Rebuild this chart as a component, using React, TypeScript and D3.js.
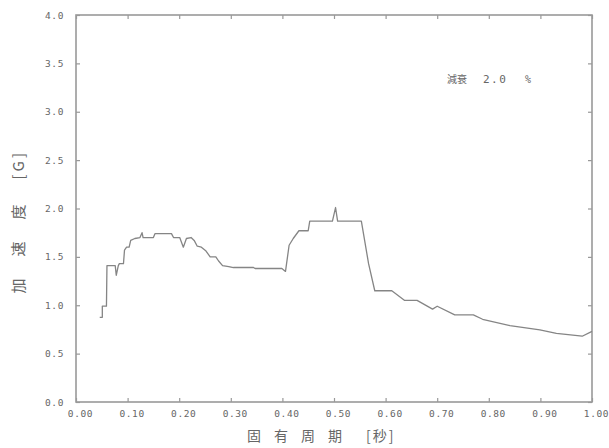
import {useEffect, useRef} from "react";
import * as d3 from "d3";

// 固有周期 [秒]
const periods = [
    0.046, 0.051, 0.051, 0.059, 0.060, 0.076, 0.078, 0.082, 0.084, 0.092,
    0.094, 0.098, 0.103, 0.106, 0.114, 0.124, 0.128, 0.130, 0.150, 0.153,
    0.185, 0.189, 0.201, 0.208, 0.214, 0.223, 0.229, 0.235, 0.243, 0.252,
    0.260, 0.271, 0.276, 0.284, 0.296, 0.305, 0.344, 0.347, 0.399, 0.406,
    0.413, 0.421, 0.432, 0.450, 0.453, 0.497, 0.503, 0.507, 0.553, 0.567,
    0.579, 0.612, 0.637, 0.661, 0.691, 0.700, 0.734, 0.770, 0.788, 0.841,
    0.899, 0.931, 0.981, 1.000
];
// 加速度 [G]
const accel = [
    0.875, 0.875, 0.99, 0.99, 1.41, 1.41, 1.31, 1.41, 1.43, 1.43,
    1.57, 1.60, 1.60, 1.67, 1.69, 1.70, 1.75, 1.70, 1.70, 1.74,
    1.74, 1.70, 1.70, 1.60, 1.69, 1.70, 1.67, 1.61, 1.60, 1.56,
    1.50, 1.50, 1.46, 1.41, 1.40, 1.39, 1.39, 1.38, 1.38, 1.35,
    1.62, 1.69, 1.77, 1.77, 1.87, 1.87, 2.01, 1.87, 1.87, 1.43,
    1.15, 1.15, 1.05, 1.05, 0.96, 0.99, 0.90, 0.90, 0.855, 0.79,
    0.745, 0.71, 0.68, 0.73
];
const xTicks = [0, 0.1, 0.2, 0.3, 0.4, 0.5, 0.6, 0.7, 0.8, 0.9, 1.0];
const yTicks = [0, 0.5, 1.0, 1.5, 2.0, 2.5, 3.0, 3.5, 4.0];

function App()
{
    const myNode = useRef<HTMLDivElement>(null);

    useEffect(() => {
        const width = 609;
        const height = 448;
        const left = 76, right = 592, top = 15, bottom = 402;
        const mono = "'DejaVu Sans Mono', monospace";
        const cjk = "'Noto Sans CJK JP', sans-serif";
        const axisColor = "#999";
        const textColor = "#666";

        d3.select(myNode.current).selectAll('*').remove();

        const svg = d3.select(myNode.current)
            .append('svg')
            .attr('width', width)
            .attr('height', height)
            .style('display', 'block')
            .style('background', '#fff');

        const xScale = d3.scaleLinear().domain([0, 1]).range([left, right]);
        const yScale = d3.scaleLinear().domain([0, 4]).range([bottom, top]);

        const styleAxis = (g: any) => {
            g.select('.domain').remove();
            g.selectAll('line').attr('stroke', axisColor).attr('stroke-width', 1.2);
            g.selectAll('text')
                .attr('fill', textColor)
                .style('font-family', mono)
                .style('font-size', '9.5px')
                .style('letter-spacing', '0.6px');
        };

        svg.append('g')
            .attr('transform', `translate(0,${bottom})`)
            .call(d3.axisBottom(xScale).tickValues(xTicks).tickSize(-4).tickPadding(8).tickFormat(d3.format('.2f')))
            .call(styleAxis)
            .call((g: any) => g.selectAll('text').attr('dx', 4));

        svg.append('g')
            .attr('transform', `translate(0,${top})`)
            .call(d3.axisTop(xScale).tickValues(xTicks).tickSize(-4).tickFormat(() => ''))
            .call(styleAxis);

        svg.append('g')
            .attr('transform', `translate(${left},0)`)
            .call(d3.axisLeft(yScale).tickValues(yTicks).tickSize(-4).tickPadding(12).tickFormat(d3.format('.1f')))
            .call(styleAxis);

        svg.append('g')
            .attr('transform', `translate(${right},0)`)
            .call(d3.axisRight(yScale).tickValues(yTicks).tickSize(-4).tickFormat(() => ''))
            .call(styleAxis);

        // frame
        svg.append('rect')
            .attr('x', left)
            .attr('y', top)
            .attr('width', right - left)
            .attr('height', bottom - top)
            .attr('fill', 'none')
            .attr('stroke', axisColor)
            .attr('stroke-width', 1.6);

        const points = periods.map((p, i) => [p, accel[i]] as [number, number]);
        const line = d3.line<[number, number]>()
            .x(d => xScale(d[0]))
            .y(d => yScale(d[1]));

        svg.append('path')
            .datum(points)
            .attr('d', line)
            .attr('fill', 'none')
            .attr('stroke', '#858585')
            .attr('stroke-width', 1.3)
            .attr('stroke-linejoin', 'round');

        // damping note
        const note = svg.append('g').attr('fill', textColor);
        note.append('text')
            .attr('x', 447).attr('y', 83)
            .style('font-family', cjk).style('font-size', '10px')
            .text('減衰');
        note.append('text')
            .attr('x', 483).attr('y', 83)
            .style('font-family', mono).style('font-size', '11px').style('letter-spacing', '1.5px')
            .text('2.0');
        note.append('text')
            .attr('x', 525).attr('y', 83)
            .style('font-family', mono).style('font-size', '10px')
            .text('%');

        // x title
        const cx = (left + right) / 2;
        const xt = svg.append('text')
            .attr('y', 441)
            .attr('fill', textColor)
            .style('font-family', cjk)
            .style('font-size', '14px');
        xt.append('tspan').attr('x', cx - 87).style('letter-spacing', '13px').text('固有周期');
        xt.append('tspan').attr('x', cx + 32).style('letter-spacing', '2px').text('[秒]');

        // y title
        const cy = (top + bottom) / 2;
        const yt = svg.append('text')
            .attr('transform', `translate(24,${cy + 85}) rotate(-90)`)
            .attr('fill', textColor)
            .style('font-family', cjk)
            .style('font-size', '15px');
        yt.append('tspan').attr('x', 0).style('letter-spacing', '22px').text('加速度');
        yt.append('tspan').attr('x', 114).style('letter-spacing', '3px').text('[G]');
    }, []);

    return (
        <div ref={myNode} style={{position: 'absolute', left: 0, top: 0}}>
        </div>
    );
}

export default App;
